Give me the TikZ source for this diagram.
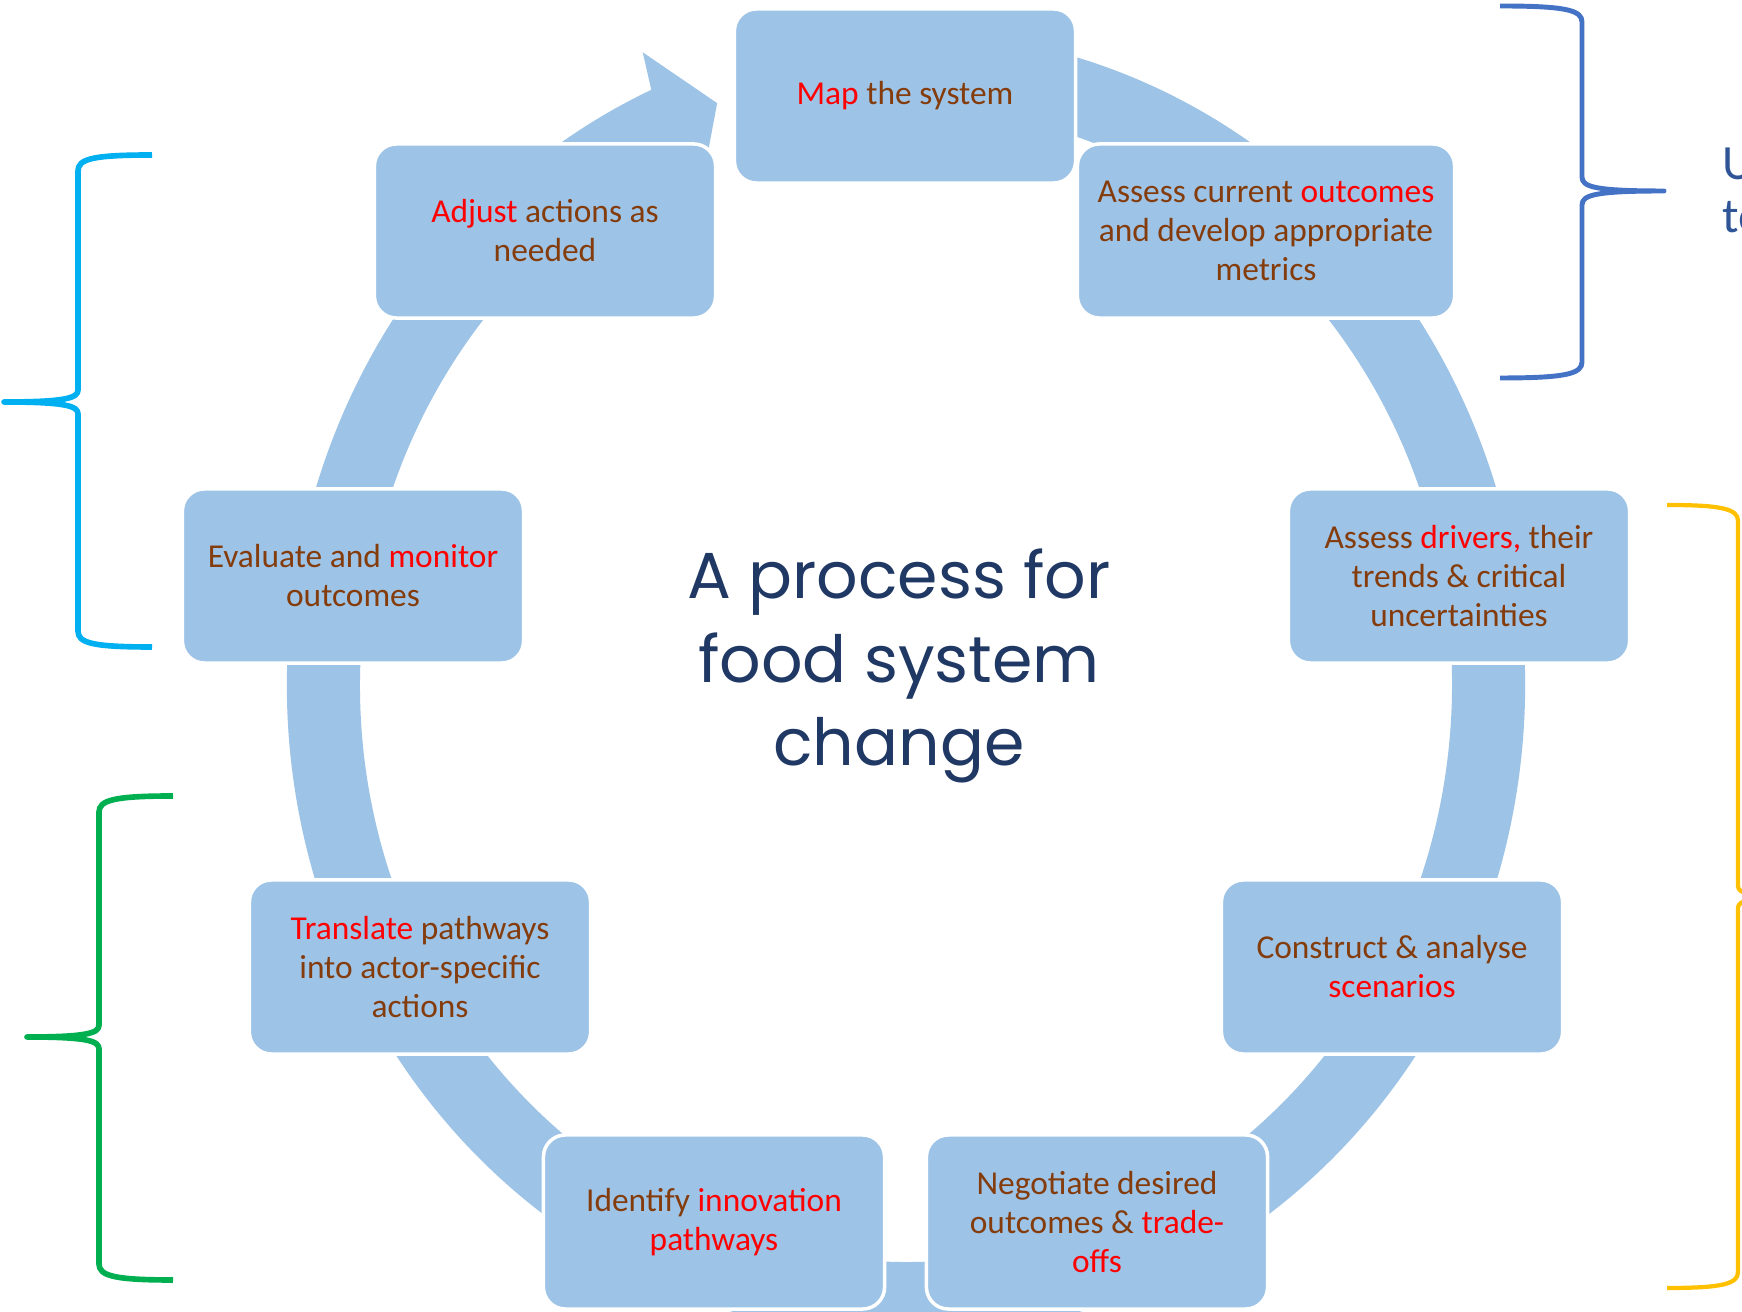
\documentclass[tikz,border=0pt]{standalone}
\usepackage{fontspec}
\setmainfont{Carlito}
\newfontfamily\titlefont{Poppins}

\definecolor{cycleblue}{HTML}{9DC3E6}
\definecolor{txtbrown}{HTML}{843C0C}
\definecolor{txtred}{HTML}{FF0000}
\definecolor{titlenavy}{HTML}{203864}
\definecolor{sidenavy}{HTML}{2F5597}
\definecolor{braceblue}{HTML}{4472C4}
\definecolor{bracecyan}{HTML}{00B0F0}
\definecolor{bracegreen}{HTML}{00B050}
\definecolor{braceyellow}{HTML}{FFC000}
\newcommand{\hl}[1]{\textcolor{txtred}{#1}}

\begin{document}
\begin{tikzpicture}[x=0.01cm, y=0.01cm,
    stage/.style={rectangle, rounded corners=0.22cm, fill=cycleblue, draw=white,
      line width=1pt, minimum width=3.41cm, minimum height=1.74cm, align=center,
      text=txtbrown, font=\fontsize{9.5}{11.1}\selectfont, inner sep=0pt},
    curly/.style={line width=1.4pt, line join=round}]
    \useasboundingbox (0,0) rectangle (1742,1312);
    \clip (0,0) rectangle (1742,1312);

    % ring and its head
    \begin{scope}[shift={(906,627)}]
        \fill[cycleblue] (114:619 and 653) arc[start angle=114, end angle=445, x radius=619, y radius=653]
            -- (445:546 and 577) arc[start angle=445, end angle=114, x radius=546, y radius=577] -- cycle;
        \fill[cycleblue] (114.3:619 and 653) -- (113.7:655 and 691) -- (108.9:583 and 615)
            -- (113.7:511 and 539) -- (114.3:546 and 577) -- cycle;
    \end{scope}

    \node[stage] (map) at (905,1216) {\hl{Map} the system};
    \node[stage, minimum width=3.77cm] (outcomes) at (1266,1081) {Assess current \hl{outcomes}\\and develop appropriate\\metrics};
    \node[stage] (drivers) at (1459,736) {Assess \hl{drivers,} their\\trends \& critical\\uncertainties};
    \node[stage] (scenarios) at (1392,345) {Construct \& analyse\\\hl{scenarios}};
    \node[stage] (negotiate) at (1097,90) {Negotiate desired\\outcomes \& \hl{trade-}\\\hl{offs}};
    \node[stage] (identify) at (714,90) {Identify \hl{innovation}\\\hl{pathways}};
    \node[stage] (translate) at (420,345) {\hl{Translate} pathways\\into actor-specific\\actions};
    \node[stage] (evaluate) at (353,736) {Evaluate and \hl{monitor}\\outcomes};
    \node[stage] (adjust) at (545,1081) {\hl{Adjust} actions as\\needed};

    \node[font=\titlefont\fontsize{18.5}{23.8}\selectfont, text=titlenavy, align=center, inner sep=0pt]
        (title) at (899,646) {A process for\\food system\\change};

    % braces
    \draw[curly, braceblue] (1500,1306) .. controls (1565,1306) and (1582,1302) .. (1582,1290)
        -- (1582,1135) .. controls (1582,1125) and (1595,1121) .. (1664,1121)
        .. controls (1595,1121) and (1582,1117) .. (1582,1107)
        -- (1582,950) .. controls (1582,938) and (1565,934) .. (1500,934);
    \draw[curly, bracecyan, line width=1.6pt] (152,1157) .. controls (92,1157) and (78,1153) .. (78,1141)
        -- (78,922) .. controls (78,914) and (66,910) .. (4,910)
        .. controls (66,910) and (78,906) .. (78,898)
        -- (78,681) .. controls (78,669) and (92,665) .. (152,665);
    \draw[curly, bracegreen, line width=1.6pt] (173,516) .. controls (115,516) and (99,512) .. (99,500)
        -- (99,287) .. controls (99,279) and (88,275) .. (27,275)
        .. controls (88,275) and (99,271) .. (99,263)
        -- (99,48) .. controls (99,36) and (115,32) .. (173,32);
    \draw[curly, braceyellow, line width=1.2pt] (1667,807) .. controls (1722,807) and (1738,803) .. (1738,791)
        -- (1738,426) .. controls (1738,418) and (1750,415) .. (1820,415)
        .. controls (1750,415) and (1738,412) .. (1738,404)
        -- (1738,40) .. controls (1738,28) and (1722,24) .. (1667,24);

    \node[font=\fontsize{14}{15}\selectfont, text=sidenavy, anchor=base west, inner sep=0pt] (sideu) at (1722,1132) {U};
    \node[font=\fontsize{14}{15}\selectfont, text=sidenavy, anchor=base west, inner sep=0pt] (sideto) at (1722,1079) {to};
\end{tikzpicture}
\end{document}
